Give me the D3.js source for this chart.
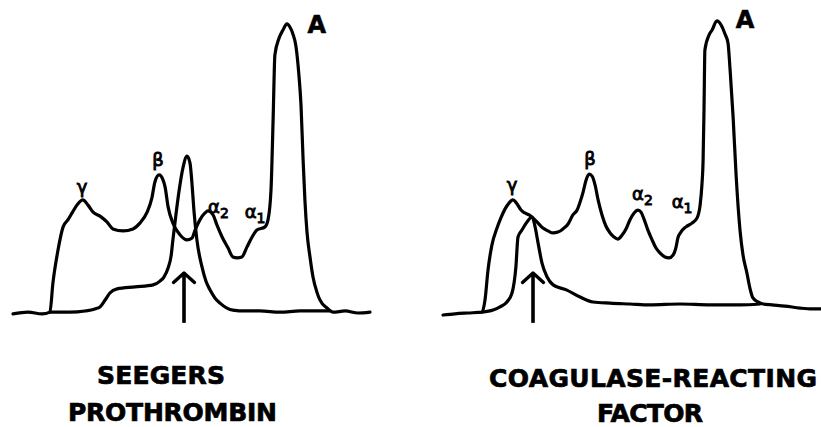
<!DOCTYPE html>
<html>
<head>
<meta charset="utf-8">
<script src="https://cdn.jsdelivr.net/npm/d3@7"></script>
<style>
    body { margin: 0; background: #fff; }
</style>
</head>
<body>
<svg id="Chart"></svg>
<script>
    // densitometer tracings, [distance (mm), optical density (% of albumin peak)]
    let seegersSerum = [
        [0, -0.3], [5, 0.3], [9.7, -0.3], [12.3, 0.3], [13.3, 10.3], [15, 21.7], [16.7, 29.7],
        [18.3, 32.1], [19.7, 34.5], [21.3, 37.2], [23.3, 39], [25, 37.2], [26.7, 34.8], [29, 33.4],
        [31.3, 31.4], [33.3, 29], [36.7, 28.3], [40, 29], [42.3, 31], [44.7, 34.8], [46.3, 39.7],
        [47.3, 45.2], [48.7, 47.6], [50, 45.9], [50.7, 43.4], [51.7, 36.6], [53.3, 31], [55.7, 26.9],
        [58, 25.2], [59.7, 25.9], [60.7, 28.6], [62.3, 32.1], [64, 34.5], [65, 35.2], [66.7, 33.8],
        [68, 30.3], [69.7, 26.2], [71.7, 22.4], [73.3, 19.3], [74.7, 19], [76.3, 19.3], [78, 22.8],
        [79.7, 26.2], [81.3, 28.6], [84, 29.7], [85, 32.1], [86, 42.4], [86.7, 66.6], [87.3, 89],
        [88.7, 94.8], [90, 97.6], [91.3, 99.7], [92.3, 98.6], [93.3, 96.2], [94.3, 92.1], [95.3, 82.1],
        [96, 71.7], [96.7, 52.8], [97.3, 39], [98, 27.9], [99, 19.3], [100, 12.4], [101.3, 7.2],
        [102.3, 4.5], [104.7, 1.7], [106.7, 0.3], [110.7, 0.7], [115, 0], [119, 0.3]
    ]
    let seegersProthrombin = [
        [12.3, 0.3], [19, 0.3], [24, 0.7], [27.3, 1.4], [29, 2.1], [30.7, 4.5], [32.3, 6.9],
        [34.7, 8.3], [40.7, 9], [46.7, 9.7], [49, 11], [50.3, 12.4], [51.7, 15.5], [52.7, 19.7],
        [53.3, 25.2], [54.3, 33.8], [55.3, 41.7], [56.7, 50.3], [58, 54.1], [59, 51.7], [59.7, 44.1],
        [60.3, 35.5], [61.3, 25.2], [63, 15.9], [64.3, 11], [65.7, 7.9], [67.3, 5.2], [69, 3.4],
        [71.3, 1.7], [73.3, 1], [77.3, 0.7], [82.3, 0.7], [89, 0.3], [95.7, 0.7], [100.7, 0.7], [105.7, 0.7]
    ]
    let coagSerum = [
        [0, -0.7], [4, -0.3], [8.3, 0], [13, 0.3], [14, 4.5], [15, 14.8], [16.3, 23.4], [18, 29.3],
        [19.3, 32.8], [20.7, 35.9], [22, 37.9], [23.3, 39], [24.7, 37.6], [26, 35.5], [27.3, 34.5],
        [28.7, 33.8], [30, 32.8], [31.7, 31], [33.3, 29.3], [35, 28.3], [36.7, 27.6], [38.3, 27.9],
        [40, 29], [41.7, 30.7], [43.3, 33.8], [44.7, 35.5], [45.7, 38.3], [46.7, 41.7], [47.7, 45.9],
        [48.7, 47.9], [49.7, 47.2], [50.7, 44.1], [51.7, 39], [53, 33.8], [54.3, 30], [55.7, 27.6],
        [57, 26.2], [58.3, 25.5], [59.7, 26.9], [61, 29], [62.3, 32.1], [63.7, 34.5], [65, 35.5],
        [66, 34.8], [67, 32.4], [68.3, 28.6], [69.7, 25.2], [71, 22.4], [72.3, 20.7], [74, 19.3],
        [75.3, 19], [76.7, 20], [77.7, 22.8], [78.3, 25.9], [79.3, 27.9], [81, 29.7], [83, 31],
        [84.7, 32.8], [85.7, 37.2], [86.3, 44.1], [86.7, 52.8], [87, 70], [87.3, 90.7], [88.7, 95.9],
        [89.7, 97.6], [91.3, 100.7], [92.7, 99.3], [94, 96.2], [95, 93.1], [95.7, 83.8], [96.7, 67.6],
        [97.7, 47.6], [99, 28.6], [100, 20], [101.3, 13.8], [102.3, 8.6], [103.3, 5.2], [105, 3.8],
        [106.7, 3.1], [109.7, 2.8], [114, 2.4], [119, 1.7], [123, 1.4], [126, 1.4]
    ]
    let coagFactor = [
        [13, 0.3], [16.7, 1], [19, 2.1], [21.3, 3.8], [23, 6.9], [24.3, 15.9], [25, 26.2],
        [26.3, 28.6], [28, 31.4], [29.7, 33.1], [30.7, 29.7], [31.7, 24.1], [33, 17.2], [34.7, 12.4],
        [36.7, 9.7], [41.3, 7.9], [45.7, 5.5], [50, 3.8], [55.7, 3.4], [62.3, 3.1], [69, 2.8],
        [79, 3.1], [89, 2.8], [99, 2.8], [105.7, 3.1]
    ]
    // where the sample was applied (arrow), distance in mm
    let seegersOrigin = 57
    let coagOrigin = 30
    // fraction labels: name, subscript, [distance, density]
    let seegersLabels = [
        ["γ", "", [23, 41.4]], ["β", "", [48.3, 50.7]], ["α", "2", [68.5, 34.5]],
        ["α", "1", [80.7, 32.8]], ["A", "", [101.3, 96.6]]
    ]
    let coagLabels = [
        ["γ", "", [23, 42.1]], ["β", "", [49, 51]], ["α", "2", [66.5, 39]],
        ["α", "1", [79.7, 36.2]], ["A", "", [100.7, 98.3]]
    ]
    let seegersTitle = ["SEEGERS", "PROTHROMBIN"]
    let coagTitle = ["COAGULASE-REACTING", "FACTOR"]

    function getConfig() {
        let width = 821
        let height = 427
        let container = d3.select("#Chart")
        container
            .attr("width", width)
            .attr("height", height)
        return {width, height, container}
    }

    function getScales(xRange, xMax) {
        let xScale = d3.scaleLinear().domain([0, xMax]).range(xRange)
        let yScale = d3.scaleLinear().domain([0, 100]).range([313, 23])
        return {xScale, yScale}
    }

    function drawCurves(container, curves, scales) {
        let {xScale, yScale} = scales
        let line = d3.line()
            .x(d => xScale(d[0]))
            .y(d => yScale(d[1]))
            .curve(d3.curveMonotoneX)
        container.append("g")
            .selectAll("path")
            .data(curves)
            .enter()
            .append("path")
            .attr("d", d => line(d))
            .attr("fill", "none")
            .attr("stroke", "#000")
            .attr("stroke-width", 3.2)
            .attr("stroke-linejoin", "round")
            .attr("stroke-linecap", "round")
    }

    function drawArrow(container, origin, scales) {
        let {xScale, yScale} = scales
        let x = xScale(origin)
        let tip = yScale(13.8)
        container.append("line")
            .attr("x1", x).attr("x2", x)
            .attr("y1", yScale(-3.4)).attr("y2", tip)
            .attr("stroke", "#000")
            .attr("stroke-width", 3.6)
        container.append("path")
            .attr("d", d3.line()([[x - 10.5, tip + 9.5], [x, tip], [x + 10.5, tip + 9.5]]))
            .attr("fill", "none")
            .attr("stroke", "#000")
            .attr("stroke-width", 3.4)
            .attr("stroke-linejoin", "round")
            .attr("stroke-linecap", "round")
    }

    function drawLabels(container, labels, scales) {
        let {xScale, yScale} = scales
        let text = container.append("g")
            .selectAll("text")
            .data(labels)
            .enter()
            .append("text")
            .attr("x", d => xScale(d[2][0]))
            .attr("y", d => yScale(d[2][1]))
            .attr("text-anchor", "middle")
            .attr("font-family", "DejaVu Sans")
            .attr("font-size", d => d[0] == "A" ? 24 : 18)
            .attr("font-weight", d => d[0] == "A" ? "bold" : "normal")
            .attr("fill", "#000")
            .attr("stroke", "#000")
            .attr("stroke-width", d => d[0] == "A" ? 0.6 : 0.9)
        text.append("tspan").text(d => d[0])
        text.filter(d => d[1] != "")
            .append("tspan")
            .attr("dy", 5)
            .attr("font-size", 14)
            .text(d => d[1])
    }

    function drawTitle(container, lines, spots) {
        container.append("g")
            .selectAll("text")
            .data(lines)
            .enter()
            .append("text")
            .attr("x", (d, i) => spots[i][0])
            .attr("y", (d, i) => spots[i][1])
            .attr("textLength", (d, i) => spots[i][2])
            .attr("lengthAdjust", "spacing")
            .attr("font-family", "DejaVu Sans")
            .attr("font-weight", "bold")
            .attr("font-size", 25)
            .attr("fill", "#000")
            .attr("stroke", "#000")
            .attr("stroke-width", 0.7)
            .text(d => d)
    }

    function showData() {
        let config = getConfig()
        let container = config.container

        let left = getScales([13, 373], 120)
        drawCurves(container, [seegersSerum, seegersProthrombin], left)
        drawArrow(container, seegersOrigin, left)
        drawLabels(container, seegersLabels, left)
        drawTitle(container, seegersTitle, [[97, 384, 128], [68, 421, 209]])

        let right = getScales([443, 821], 126)
        drawCurves(container, [coagSerum, coagFactor], right)
        drawArrow(container, coagOrigin, right)
        drawLabels(container, coagLabels, right)
        drawTitle(container, coagTitle, [[489, 387, 328], [597, 422, 106]])
    }

    showData()
</script>
</body>
</html>
